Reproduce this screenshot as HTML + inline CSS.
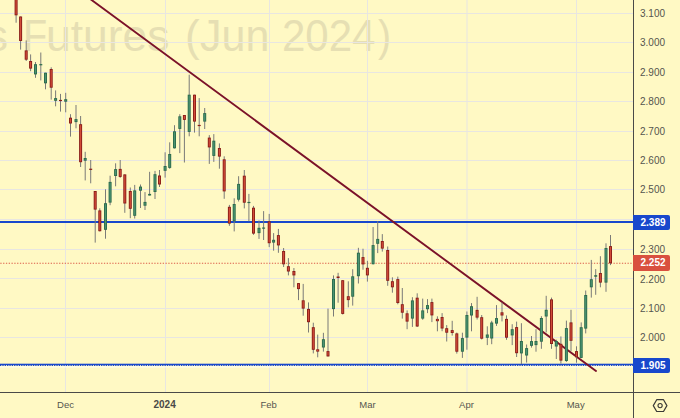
<!DOCTYPE html>
<html><head><meta charset="utf-8"><title>chart</title>
<style>
html,body{margin:0;padding:0;}
body{width:680px;height:418px;overflow:hidden;background:#fff9c4;font-family:"Liberation Sans",sans-serif;position:relative;}
#c{position:absolute;left:0;top:0;width:680px;height:418px;overflow:hidden;background:#fff9c4;}
.pl{position:absolute;left:640px;width:40px;font-size:10px;line-height:12px;color:#55554f;letter-spacing:0px;}
.tag{position:absolute;left:633px;width:37px;height:14.2px;padding-top:1px;border-radius:0 2px 2px 0;color:#fff;font-weight:bold;font-size:10px;line-height:14px;text-indent:7.5px;}
.ml{position:absolute;top:399px;font-size:9.5px;line-height:12px;color:#55554f;transform:translateX(-50%);white-space:nowrap;}
.wm{position:absolute;left:0;top:0;white-space:nowrap;font-size:44px;line-height:44px;color:#e6dfb3;transform-origin:0 0;}
</style></head><body><div id="c">
<div class="wm" style="left:-14.1px;top:14px;">s</div>
<div class="wm" style="left:22.6px;top:14px;transform:scaleX(0.9)">F</div>
<div class="wm" style="left:45.8px;top:14px;transform:scaleX(1.0093)">utures</div>
<div class="wm" style="left:185px;top:14px;">(</div>
<div class="wm" style="left:200px;top:14px;transform:scaleX(0.978)">Jun</div>
<div class="wm" style="left:281.6px;top:14px;transform:scaleX(0.954)">2024</div>
<div class="wm" style="left:377.6px;top:14px;transform:scaleX(0.89)">)</div>
<svg width="680" height="418" viewBox="0 0 680 418" style="position:absolute;left:0;top:0">
<g shape-rendering="crispEdges" fill="#e8e6e1">
<rect x="0" y="13" width="633" height="1"/>
<rect x="0" y="42" width="633" height="1"/>
<rect x="0" y="72" width="633" height="1"/>
<rect x="0" y="101" width="633" height="1"/>
<rect x="0" y="131" width="633" height="1"/>
<rect x="0" y="160" width="633" height="1"/>
<rect x="0" y="189" width="633" height="1"/>
<rect x="0" y="219" width="633" height="1"/>
<rect x="0" y="249" width="633" height="1"/>
<rect x="0" y="278" width="633" height="1"/>
<rect x="0" y="308" width="633" height="1"/>
<rect x="0" y="337" width="633" height="1"/>
<rect x="65" y="0" width="1" height="392"/>
<rect x="165" y="0" width="1" height="392"/>
<rect x="269" y="0" width="1" height="392"/>
<rect x="367" y="0" width="1" height="392"/>
<rect x="576" y="0" width="1" height="392"/>
</g>
<rect x="466.5" y="0" width="1" height="392" fill="#e8e6e1"/>
<!--WM-->
<g shape-rendering="crispEdges">
<rect x="0" y="221" width="633" height="2" fill="#1848cc"/>
</g>
<rect x="0" y="363.7" width="633" height="1.4" fill="#1848cc"/>
<line x1="0" y1="365.5" x2="633" y2="365.5" stroke="#1848cc" stroke-width="1.1" stroke-dasharray="1.3 1.05"/>
<rect x="0" y="366.4" width="633" height="1.1" fill="#fffdf0"/>
<line x1="0.3" y1="263.3" x2="633" y2="263.3" stroke="#dc5c48" stroke-width="1.1" stroke-dasharray="1.3 1.5"/>
<line x1="78" y1="-10" x2="596" y2="371" stroke="#7b1229" stroke-width="1.9" stroke-linecap="round"/>
<g>
<rect x="15.6" y="-5.0" width="1" height="27.7" fill="#7b7b78"/>
<rect x="14.6" y="-5.0" width="3" height="20.3" fill="#8a1c18"/>
<rect x="15.5" y="-4.1" width="1.2" height="18.5" fill="#d24c38"/>
<rect x="20.1" y="16.5" width="1" height="33.1" fill="#7b7b78"/>
<rect x="19.1" y="16.5" width="3" height="24.5" fill="#8a1c18"/>
<rect x="20.0" y="17.4" width="1.2" height="22.7" fill="#d24c38"/>
<rect x="25.7" y="40.4" width="1" height="20.6" fill="#7b7b78"/>
<rect x="24.7" y="50.4" width="3" height="9.3" fill="#8a1c18"/>
<rect x="25.6" y="51.3" width="1.2" height="7.5" fill="#d24c38"/>
<rect x="30.1" y="54.4" width="1" height="16.8" fill="#7b7b78"/>
<rect x="29.1" y="61.0" width="3" height="7.6" fill="#8a1c18"/>
<rect x="30.0" y="61.9" width="1.2" height="5.8" fill="#d24c38"/>
<rect x="35.0" y="62.0" width="1" height="15.8" fill="#7b7b78"/>
<rect x="34.0" y="64.2" width="3" height="10.2" fill="#2b6b4c"/>
<rect x="34.9" y="65.1" width="1.2" height="8.4" fill="#4c9372"/>
<rect x="40.3" y="52.5" width="1" height="27.9" fill="#7b7b78"/>
<rect x="39.3" y="64.1" width="3" height="1.2" fill="#2b6b4c"/>
<rect x="45.0" y="72.7" width="1" height="16.6" fill="#7b7b78"/>
<rect x="44.0" y="72.7" width="3" height="10.6" fill="#2b6b4c"/>
<rect x="44.9" y="73.6" width="1.2" height="8.8" fill="#4c9372"/>
<rect x="50.7" y="67.3" width="1" height="32.3" fill="#7b7b78"/>
<rect x="49.7" y="69.0" width="3" height="18.7" fill="#8a1c18"/>
<rect x="50.6" y="69.9" width="1.2" height="16.9" fill="#d24c38"/>
<rect x="55.1" y="90.4" width="1" height="15.9" fill="#7b7b78"/>
<rect x="54.1" y="98.1" width="3" height="2.7" fill="#2b6b4c"/>
<rect x="55.0" y="99.0" width="1.2" height="0.9" fill="#4c9372"/>
<rect x="60.0" y="93.9" width="1" height="17.7" fill="#7b7b78"/>
<rect x="59.0" y="99.9" width="3" height="1.2" fill="#8a1c18"/>
<rect x="65.2" y="92.8" width="1" height="19.5" fill="#7b7b78"/>
<rect x="64.2" y="99.2" width="3" height="2.5" fill="#2b6b4c"/>
<rect x="65.1" y="100.1" width="1.2" height="0.7" fill="#4c9372"/>
<rect x="70.0" y="114.2" width="1" height="22.4" fill="#7b7b78"/>
<rect x="69.0" y="117.7" width="3" height="5.8" fill="#8a1c18"/>
<rect x="69.9" y="118.6" width="1.2" height="4.0" fill="#d24c38"/>
<rect x="75.5" y="105.0" width="1" height="23.3" fill="#7b7b78"/>
<rect x="74.5" y="119.1" width="3" height="3.0" fill="#2b6b4c"/>
<rect x="75.4" y="120.0" width="1.2" height="1.2" fill="#4c9372"/>
<rect x="80.1" y="116.0" width="1" height="51.0" fill="#7b7b78"/>
<rect x="79.1" y="124.2" width="3" height="38.0" fill="#8a1c18"/>
<rect x="80.0" y="125.1" width="1.2" height="36.2" fill="#d24c38"/>
<rect x="84.7" y="151.8" width="1" height="28.6" fill="#7b7b78"/>
<rect x="83.7" y="158.0" width="3" height="2.7" fill="#2b6b4c"/>
<rect x="84.6" y="158.9" width="1.2" height="0.9" fill="#4c9372"/>
<rect x="90.2" y="160.0" width="1" height="23.3" fill="#7b7b78"/>
<rect x="89.2" y="168.7" width="3" height="1.2" fill="#8a1c18"/>
<rect x="94.7" y="191.0" width="1" height="51.6" fill="#7b7b78"/>
<rect x="93.7" y="191.0" width="3" height="18.6" fill="#8a1c18"/>
<rect x="94.6" y="191.9" width="1.2" height="16.8" fill="#d24c38"/>
<rect x="99.3" y="208.3" width="1" height="23.2" fill="#7b7b78"/>
<rect x="98.3" y="210.4" width="3" height="20.8" fill="#8a1c18"/>
<rect x="99.2" y="211.3" width="1.2" height="19.0" fill="#d24c38"/>
<rect x="105.0" y="189.3" width="1" height="49.4" fill="#7b7b78"/>
<rect x="104.0" y="203.2" width="3" height="26.6" fill="#2b6b4c"/>
<rect x="104.9" y="204.1" width="1.2" height="24.8" fill="#4c9372"/>
<rect x="109.6" y="175.7" width="1" height="29.5" fill="#7b7b78"/>
<rect x="108.6" y="181.9" width="3" height="20.7" fill="#2b6b4c"/>
<rect x="109.5" y="182.8" width="1.2" height="18.9" fill="#4c9372"/>
<rect x="115.1" y="163.3" width="1" height="23.0" fill="#7b7b78"/>
<rect x="114.1" y="169.1" width="3" height="6.9" fill="#2b6b4c"/>
<rect x="115.0" y="170.0" width="1.2" height="5.1" fill="#4c9372"/>
<rect x="119.7" y="160.0" width="1" height="17.8" fill="#7b7b78"/>
<rect x="118.7" y="168.9" width="3" height="8.0" fill="#8a1c18"/>
<rect x="119.6" y="169.8" width="1.2" height="6.2" fill="#d24c38"/>
<rect x="124.3" y="174.4" width="1" height="38.4" fill="#7b7b78"/>
<rect x="123.3" y="174.4" width="3" height="29.1" fill="#8a1c18"/>
<rect x="124.2" y="175.3" width="1.2" height="27.3" fill="#d24c38"/>
<rect x="129.8" y="187.5" width="1" height="30.7" fill="#7b7b78"/>
<rect x="128.8" y="191.0" width="3" height="17.8" fill="#8a1c18"/>
<rect x="129.7" y="191.9" width="1.2" height="16.0" fill="#d24c38"/>
<rect x="134.2" y="184.9" width="1" height="33.6" fill="#7b7b78"/>
<rect x="133.2" y="190.4" width="3" height="25.4" fill="#2b6b4c"/>
<rect x="134.1" y="191.3" width="1.2" height="23.6" fill="#4c9372"/>
<rect x="140.0" y="184.5" width="1" height="23.5" fill="#7b7b78"/>
<rect x="139.0" y="186.6" width="3" height="4.1" fill="#2b6b4c"/>
<rect x="139.9" y="187.5" width="1.2" height="2.3" fill="#4c9372"/>
<rect x="144.5" y="192.1" width="1" height="17.9" fill="#7b7b78"/>
<rect x="143.5" y="201.9" width="3" height="3.8" fill="#2b6b4c"/>
<rect x="144.4" y="202.8" width="1.2" height="2.0" fill="#4c9372"/>
<rect x="149.1" y="171.8" width="1" height="23.7" fill="#7b7b78"/>
<rect x="148.1" y="193.9" width="3" height="1.6" fill="#2b6b4c"/>
<rect x="154.5" y="170.9" width="1" height="28.1" fill="#7b7b78"/>
<rect x="153.5" y="174.2" width="3" height="17.8" fill="#2b6b4c"/>
<rect x="154.4" y="175.1" width="1.2" height="16.0" fill="#4c9372"/>
<rect x="159.0" y="170.0" width="1" height="17.0" fill="#7b7b78"/>
<rect x="158.0" y="175.5" width="3" height="9.0" fill="#8a1c18"/>
<rect x="158.9" y="176.4" width="1.2" height="7.2" fill="#d24c38"/>
<rect x="164.6" y="152.3" width="1" height="25.3" fill="#7b7b78"/>
<rect x="163.6" y="166.0" width="3" height="4.8" fill="#2b6b4c"/>
<rect x="164.5" y="166.9" width="1.2" height="3.0" fill="#4c9372"/>
<rect x="169.2" y="142.3" width="1" height="26.5" fill="#7b7b78"/>
<rect x="168.2" y="154.0" width="3" height="13.9" fill="#2b6b4c"/>
<rect x="169.1" y="154.9" width="1.2" height="12.1" fill="#4c9372"/>
<rect x="174.0" y="125.2" width="1" height="23.3" fill="#7b7b78"/>
<rect x="173.0" y="131.3" width="3" height="17.0" fill="#2b6b4c"/>
<rect x="173.9" y="132.2" width="1.2" height="15.2" fill="#4c9372"/>
<rect x="179.3" y="114.2" width="1" height="38.9" fill="#7b7b78"/>
<rect x="178.3" y="116.3" width="3" height="12.6" fill="#2b6b4c"/>
<rect x="179.2" y="117.2" width="1.2" height="10.8" fill="#4c9372"/>
<rect x="183.9" y="115.0" width="1" height="47.5" fill="#7b7b78"/>
<rect x="182.9" y="115.0" width="3" height="4.9" fill="#8a1c18"/>
<rect x="183.8" y="115.9" width="1.2" height="3.1" fill="#d24c38"/>
<rect x="188.7" y="74.7" width="1" height="61.6" fill="#7b7b78"/>
<rect x="187.7" y="94.7" width="3" height="37.2" fill="#2b6b4c"/>
<rect x="188.6" y="95.6" width="1.2" height="35.4" fill="#4c9372"/>
<rect x="194.0" y="94.7" width="1" height="37.9" fill="#7b7b78"/>
<rect x="193.0" y="94.7" width="3" height="26.9" fill="#8a1c18"/>
<rect x="193.9" y="95.6" width="1.2" height="25.1" fill="#d24c38"/>
<rect x="198.7" y="98.1" width="1" height="38.2" fill="#7b7b78"/>
<rect x="197.7" y="124.9" width="3" height="1.2" fill="#8a1c18"/>
<rect x="204.2" y="108.0" width="1" height="21.0" fill="#7b7b78"/>
<rect x="203.2" y="113.1" width="3" height="8.5" fill="#2b6b4c"/>
<rect x="204.1" y="114.0" width="1.2" height="6.7" fill="#4c9372"/>
<rect x="208.8" y="135.1" width="1" height="28.8" fill="#7b7b78"/>
<rect x="207.8" y="137.6" width="3" height="9.8" fill="#8a1c18"/>
<rect x="208.7" y="138.5" width="1.2" height="8.0" fill="#d24c38"/>
<rect x="213.3" y="134.1" width="1" height="27.8" fill="#7b7b78"/>
<rect x="212.3" y="140.7" width="3" height="15.2" fill="#2b6b4c"/>
<rect x="213.2" y="141.6" width="1.2" height="13.4" fill="#4c9372"/>
<rect x="218.9" y="143.4" width="1" height="25.3" fill="#7b7b78"/>
<rect x="217.9" y="148.0" width="3" height="8.6" fill="#8a1c18"/>
<rect x="218.8" y="148.9" width="1.2" height="6.8" fill="#d24c38"/>
<rect x="223.7" y="156.3" width="1" height="42.5" fill="#7b7b78"/>
<rect x="222.7" y="159.3" width="3" height="32.1" fill="#8a1c18"/>
<rect x="223.6" y="160.2" width="1.2" height="30.3" fill="#d24c38"/>
<rect x="228.9" y="204.9" width="1" height="20.9" fill="#7b7b78"/>
<rect x="227.9" y="206.8" width="3" height="16.8" fill="#8a1c18"/>
<rect x="228.8" y="207.7" width="1.2" height="15.0" fill="#d24c38"/>
<rect x="233.7" y="198.3" width="1" height="33.1" fill="#7b7b78"/>
<rect x="232.7" y="204.0" width="3" height="17.3" fill="#2b6b4c"/>
<rect x="233.6" y="204.9" width="1.2" height="15.5" fill="#4c9372"/>
<rect x="238.1" y="176.2" width="1" height="25.3" fill="#7b7b78"/>
<rect x="237.1" y="183.9" width="3" height="15.8" fill="#2b6b4c"/>
<rect x="238.0" y="184.8" width="1.2" height="14.0" fill="#4c9372"/>
<rect x="243.8" y="170.0" width="1" height="38.4" fill="#7b7b78"/>
<rect x="242.8" y="175.7" width="3" height="27.0" fill="#8a1c18"/>
<rect x="243.7" y="176.6" width="1.2" height="25.2" fill="#d24c38"/>
<rect x="248.4" y="193.9" width="1" height="27.4" fill="#7b7b78"/>
<rect x="247.4" y="201.9" width="3" height="1.2" fill="#2b6b4c"/>
<rect x="253.0" y="205.9" width="1" height="28.9" fill="#7b7b78"/>
<rect x="252.0" y="207.7" width="3" height="25.9" fill="#8a1c18"/>
<rect x="252.9" y="208.6" width="1.2" height="24.1" fill="#d24c38"/>
<rect x="258.5" y="220.4" width="1" height="18.5" fill="#7b7b78"/>
<rect x="257.5" y="227.8" width="3" height="5.3" fill="#2b6b4c"/>
<rect x="258.4" y="228.7" width="1.2" height="3.5" fill="#4c9372"/>
<rect x="263.1" y="211.1" width="1" height="28.9" fill="#7b7b78"/>
<rect x="262.1" y="227.5" width="3" height="1.2" fill="#2b6b4c"/>
<rect x="268.7" y="213.9" width="1" height="33.2" fill="#7b7b78"/>
<rect x="267.7" y="221.3" width="3" height="21.9" fill="#8a1c18"/>
<rect x="268.6" y="222.2" width="1.2" height="20.1" fill="#d24c38"/>
<rect x="273.1" y="233.1" width="1" height="17.6" fill="#7b7b78"/>
<rect x="272.1" y="239.8" width="3" height="2.8" fill="#2b6b4c"/>
<rect x="273.0" y="240.7" width="1.2" height="1.0" fill="#4c9372"/>
<rect x="277.9" y="228.9" width="1" height="23.9" fill="#7b7b78"/>
<rect x="276.9" y="235.1" width="3" height="10.3" fill="#8a1c18"/>
<rect x="277.8" y="236.0" width="1.2" height="8.5" fill="#d24c38"/>
<rect x="283.1" y="248.0" width="1" height="19.0" fill="#7b7b78"/>
<rect x="282.1" y="251.0" width="3" height="13.3" fill="#8a1c18"/>
<rect x="283.0" y="251.9" width="1.2" height="11.5" fill="#d24c38"/>
<rect x="287.9" y="258.1" width="1" height="17.3" fill="#7b7b78"/>
<rect x="286.9" y="266.2" width="3" height="5.3" fill="#8a1c18"/>
<rect x="287.8" y="267.1" width="1.2" height="3.5" fill="#d24c38"/>
<rect x="293.4" y="268.0" width="1" height="19.3" fill="#7b7b78"/>
<rect x="292.4" y="271.0" width="3" height="4.4" fill="#8a1c18"/>
<rect x="293.3" y="271.9" width="1.2" height="2.6" fill="#d24c38"/>
<rect x="298.0" y="283.1" width="1" height="17.0" fill="#7b7b78"/>
<rect x="297.0" y="283.1" width="3" height="6.0" fill="#8a1c18"/>
<rect x="297.9" y="284.0" width="1.2" height="4.2" fill="#d24c38"/>
<rect x="302.7" y="283.9" width="1" height="31.8" fill="#7b7b78"/>
<rect x="301.7" y="300.3" width="3" height="8.3" fill="#8a1c18"/>
<rect x="302.6" y="301.2" width="1.2" height="6.5" fill="#d24c38"/>
<rect x="308.0" y="302.4" width="1" height="30.1" fill="#7b7b78"/>
<rect x="307.0" y="308.9" width="3" height="13.3" fill="#8a1c18"/>
<rect x="307.9" y="309.8" width="1.2" height="11.5" fill="#d24c38"/>
<rect x="312.8" y="322.7" width="1" height="30.7" fill="#7b7b78"/>
<rect x="311.8" y="327.2" width="3" height="22.6" fill="#8a1c18"/>
<rect x="312.7" y="328.1" width="1.2" height="20.8" fill="#d24c38"/>
<rect x="317.2" y="334.6" width="1" height="22.7" fill="#7b7b78"/>
<rect x="316.2" y="349.3" width="3" height="2.3" fill="#8a1c18"/>
<rect x="317.1" y="349.9" width="1.2" height="1.1" fill="#d24c38"/>
<rect x="322.9" y="332.8" width="1" height="18.8" fill="#7b7b78"/>
<rect x="321.9" y="339.2" width="3" height="8.3" fill="#2b6b4c"/>
<rect x="322.8" y="340.1" width="1.2" height="6.5" fill="#4c9372"/>
<rect x="327.5" y="308.6" width="1" height="48.0" fill="#7b7b78"/>
<rect x="326.5" y="351.1" width="3" height="5.3" fill="#8a1c18"/>
<rect x="327.4" y="352.0" width="1.2" height="3.5" fill="#d24c38"/>
<rect x="333.0" y="275.4" width="1" height="41.1" fill="#7b7b78"/>
<rect x="332.0" y="279.0" width="3" height="30.1" fill="#2b6b4c"/>
<rect x="332.9" y="279.9" width="1.2" height="28.3" fill="#4c9372"/>
<rect x="337.6" y="272.8" width="1" height="29.9" fill="#7b7b78"/>
<rect x="336.6" y="276.5" width="3" height="1.5" fill="#8a1c18"/>
<rect x="342.2" y="280.2" width="1" height="34.3" fill="#7b7b78"/>
<rect x="341.2" y="280.2" width="3" height="33.7" fill="#8a1c18"/>
<rect x="342.1" y="281.1" width="1.2" height="31.9" fill="#d24c38"/>
<rect x="347.8" y="281.3" width="1" height="26.0" fill="#7b7b78"/>
<rect x="346.8" y="296.2" width="3" height="3.9" fill="#8a1c18"/>
<rect x="347.7" y="297.1" width="1.2" height="2.1" fill="#d24c38"/>
<rect x="352.2" y="269.2" width="1" height="36.4" fill="#7b7b78"/>
<rect x="351.2" y="276.3" width="3" height="20.4" fill="#2b6b4c"/>
<rect x="352.1" y="277.2" width="1.2" height="18.6" fill="#4c9372"/>
<rect x="357.9" y="247.8" width="1" height="35.7" fill="#7b7b78"/>
<rect x="356.9" y="252.7" width="3" height="23.5" fill="#2b6b4c"/>
<rect x="357.8" y="253.6" width="1.2" height="21.7" fill="#4c9372"/>
<rect x="362.5" y="248.7" width="1" height="21.0" fill="#7b7b78"/>
<rect x="361.5" y="257.1" width="3" height="7.3" fill="#8a1c18"/>
<rect x="362.4" y="258.0" width="1.2" height="5.5" fill="#d24c38"/>
<rect x="366.9" y="260.8" width="1" height="20.8" fill="#7b7b78"/>
<rect x="365.9" y="267.8" width="3" height="7.6" fill="#8a1c18"/>
<rect x="366.8" y="268.7" width="1.2" height="5.8" fill="#d24c38"/>
<rect x="372.6" y="227.0" width="1" height="37.5" fill="#7b7b78"/>
<rect x="371.6" y="245.1" width="3" height="19.1" fill="#2b6b4c"/>
<rect x="372.5" y="246.0" width="1.2" height="17.3" fill="#4c9372"/>
<rect x="377.2" y="221.2" width="1" height="31.9" fill="#7b7b78"/>
<rect x="376.2" y="238.9" width="3" height="4.9" fill="#2b6b4c"/>
<rect x="377.1" y="239.8" width="1.2" height="3.1" fill="#4c9372"/>
<rect x="381.8" y="234.1" width="1" height="17.5" fill="#7b7b78"/>
<rect x="380.8" y="241.0" width="3" height="7.6" fill="#8a1c18"/>
<rect x="381.7" y="241.9" width="1.2" height="5.8" fill="#d24c38"/>
<rect x="387.2" y="246.5" width="1" height="39.3" fill="#7b7b78"/>
<rect x="386.2" y="250.0" width="3" height="30.8" fill="#8a1c18"/>
<rect x="387.1" y="250.9" width="1.2" height="29.0" fill="#d24c38"/>
<rect x="391.9" y="277.3" width="1" height="15.4" fill="#7b7b78"/>
<rect x="390.9" y="281.2" width="3" height="6.1" fill="#8a1c18"/>
<rect x="391.8" y="282.1" width="1.2" height="4.3" fill="#d24c38"/>
<rect x="397.3" y="276.6" width="1" height="27.7" fill="#7b7b78"/>
<rect x="396.3" y="279.1" width="3" height="23.9" fill="#8a1c18"/>
<rect x="397.2" y="280.0" width="1.2" height="22.1" fill="#d24c38"/>
<rect x="401.8" y="288.0" width="1" height="30.6" fill="#7b7b78"/>
<rect x="400.8" y="304.2" width="3" height="8.5" fill="#8a1c18"/>
<rect x="401.7" y="305.1" width="1.2" height="6.7" fill="#d24c38"/>
<rect x="406.6" y="310.4" width="1" height="18.8" fill="#7b7b78"/>
<rect x="405.6" y="313.3" width="3" height="8.3" fill="#8a1c18"/>
<rect x="406.5" y="314.2" width="1.2" height="6.5" fill="#d24c38"/>
<rect x="411.9" y="297.2" width="1" height="29.7" fill="#7b7b78"/>
<rect x="410.9" y="300.4" width="3" height="18.2" fill="#2b6b4c"/>
<rect x="411.8" y="301.3" width="1.2" height="16.4" fill="#4c9372"/>
<rect x="416.7" y="293.3" width="1" height="33.7" fill="#7b7b78"/>
<rect x="415.7" y="297.7" width="3" height="28.8" fill="#8a1c18"/>
<rect x="416.6" y="298.6" width="1.2" height="27.0" fill="#d24c38"/>
<rect x="422.2" y="298.6" width="1" height="21.2" fill="#7b7b78"/>
<rect x="421.2" y="310.4" width="3" height="8.2" fill="#2b6b4c"/>
<rect x="422.1" y="311.3" width="1.2" height="6.4" fill="#4c9372"/>
<rect x="427.0" y="299.1" width="1" height="14.0" fill="#7b7b78"/>
<rect x="426.0" y="305.1" width="3" height="4.1" fill="#2b6b4c"/>
<rect x="426.9" y="306.0" width="1.2" height="2.3" fill="#4c9372"/>
<rect x="431.4" y="298.6" width="1" height="23.5" fill="#7b7b78"/>
<rect x="430.4" y="302.1" width="3" height="13.3" fill="#8a1c18"/>
<rect x="431.3" y="303.0" width="1.2" height="11.5" fill="#d24c38"/>
<rect x="436.9" y="316.3" width="1" height="15.0" fill="#7b7b78"/>
<rect x="435.9" y="318.9" width="3" height="2.3" fill="#8a1c18"/>
<rect x="436.8" y="319.5" width="1.2" height="1.1" fill="#d24c38"/>
<rect x="441.6" y="313.1" width="1" height="18.1" fill="#7b7b78"/>
<rect x="440.6" y="317.0" width="3" height="11.5" fill="#8a1c18"/>
<rect x="441.5" y="317.9" width="1.2" height="9.7" fill="#d24c38"/>
<rect x="446.2" y="325.1" width="1" height="16.4" fill="#7b7b78"/>
<rect x="445.2" y="328.2" width="3" height="4.5" fill="#8a1c18"/>
<rect x="446.1" y="329.1" width="1.2" height="2.7" fill="#d24c38"/>
<rect x="451.7" y="320.8" width="1" height="14.8" fill="#7b7b78"/>
<rect x="450.7" y="330.1" width="3" height="2.9" fill="#8a1c18"/>
<rect x="451.6" y="331.0" width="1.2" height="1.1" fill="#d24c38"/>
<rect x="456.3" y="332.6" width="1" height="21.0" fill="#7b7b78"/>
<rect x="455.3" y="333.4" width="3" height="18.3" fill="#8a1c18"/>
<rect x="456.2" y="334.3" width="1.2" height="16.5" fill="#d24c38"/>
<rect x="461.9" y="332.7" width="1" height="25.2" fill="#7b7b78"/>
<rect x="460.9" y="338.1" width="3" height="13.6" fill="#2b6b4c"/>
<rect x="461.8" y="339.0" width="1.2" height="11.8" fill="#4c9372"/>
<rect x="466.4" y="311.5" width="1" height="38.2" fill="#7b7b78"/>
<rect x="465.4" y="315.0" width="3" height="22.6" fill="#2b6b4c"/>
<rect x="466.3" y="315.9" width="1.2" height="20.8" fill="#4c9372"/>
<rect x="471.0" y="303.1" width="1" height="28.2" fill="#7b7b78"/>
<rect x="470.0" y="306.2" width="3" height="9.3" fill="#2b6b4c"/>
<rect x="470.9" y="307.1" width="1.2" height="7.5" fill="#4c9372"/>
<rect x="476.6" y="296.8" width="1" height="22.7" fill="#7b7b78"/>
<rect x="475.6" y="309.9" width="3" height="7.7" fill="#8a1c18"/>
<rect x="476.5" y="310.8" width="1.2" height="5.9" fill="#d24c38"/>
<rect x="481.2" y="315.0" width="1" height="24.5" fill="#7b7b78"/>
<rect x="480.2" y="317.2" width="3" height="21.5" fill="#8a1c18"/>
<rect x="481.1" y="318.1" width="1.2" height="19.7" fill="#d24c38"/>
<rect x="486.8" y="326.3" width="1" height="18.8" fill="#7b7b78"/>
<rect x="485.8" y="334.5" width="3" height="3.3" fill="#2b6b4c"/>
<rect x="486.7" y="335.4" width="1.2" height="1.5" fill="#4c9372"/>
<rect x="491.2" y="320.8" width="1" height="23.4" fill="#7b7b78"/>
<rect x="490.2" y="322.5" width="3" height="16.0" fill="#2b6b4c"/>
<rect x="491.1" y="323.4" width="1.2" height="14.2" fill="#4c9372"/>
<rect x="496.0" y="305.1" width="1" height="20.8" fill="#7b7b78"/>
<rect x="495.0" y="318.1" width="3" height="5.5" fill="#2b6b4c"/>
<rect x="495.9" y="319.0" width="1.2" height="3.7" fill="#4c9372"/>
<rect x="501.5" y="302.6" width="1" height="18.8" fill="#7b7b78"/>
<rect x="500.5" y="312.3" width="3" height="3.2" fill="#8a1c18"/>
<rect x="501.4" y="313.2" width="1.2" height="1.4" fill="#d24c38"/>
<rect x="506.0" y="315.4" width="1" height="24.4" fill="#7b7b78"/>
<rect x="505.0" y="318.9" width="3" height="18.8" fill="#8a1c18"/>
<rect x="505.9" y="319.8" width="1.2" height="17.0" fill="#d24c38"/>
<rect x="511.7" y="324.2" width="1" height="20.9" fill="#7b7b78"/>
<rect x="510.7" y="329.2" width="3" height="6.2" fill="#2b6b4c"/>
<rect x="511.6" y="330.1" width="1.2" height="4.4" fill="#4c9372"/>
<rect x="516.1" y="321.6" width="1" height="35.4" fill="#7b7b78"/>
<rect x="515.1" y="327.1" width="3" height="26.1" fill="#8a1c18"/>
<rect x="516.0" y="328.0" width="1.2" height="24.3" fill="#d24c38"/>
<rect x="520.9" y="323.2" width="1" height="40.8" fill="#7b7b78"/>
<rect x="519.9" y="341.0" width="3" height="12.4" fill="#2b6b4c"/>
<rect x="520.8" y="341.9" width="1.2" height="10.6" fill="#4c9372"/>
<rect x="526.1" y="344.5" width="1" height="18.1" fill="#7b7b78"/>
<rect x="525.1" y="348.1" width="3" height="7.4" fill="#2b6b4c"/>
<rect x="526.0" y="349.0" width="1.2" height="5.6" fill="#4c9372"/>
<rect x="531.0" y="336.0" width="1" height="11.6" fill="#7b7b78"/>
<rect x="530.0" y="341.1" width="3" height="4.7" fill="#2b6b4c"/>
<rect x="530.9" y="342.0" width="1.2" height="2.9" fill="#4c9372"/>
<rect x="535.5" y="329.2" width="1" height="22.5" fill="#7b7b78"/>
<rect x="534.5" y="341.0" width="3" height="4.1" fill="#2b6b4c"/>
<rect x="535.4" y="341.9" width="1.2" height="2.3" fill="#4c9372"/>
<rect x="540.9" y="316.2" width="1" height="32.6" fill="#7b7b78"/>
<rect x="539.9" y="318.0" width="3" height="23.7" fill="#2b6b4c"/>
<rect x="540.8" y="318.9" width="1.2" height="21.9" fill="#4c9372"/>
<rect x="545.7" y="295.8" width="1" height="36.6" fill="#7b7b78"/>
<rect x="544.7" y="309.8" width="3" height="6.7" fill="#2b6b4c"/>
<rect x="545.6" y="310.7" width="1.2" height="4.9" fill="#4c9372"/>
<rect x="551.0" y="297.6" width="1" height="51.2" fill="#7b7b78"/>
<rect x="550.0" y="299.4" width="3" height="44.6" fill="#8a1c18"/>
<rect x="550.9" y="300.3" width="1.2" height="42.8" fill="#d24c38"/>
<rect x="555.8" y="339.7" width="1" height="19.3" fill="#7b7b78"/>
<rect x="554.8" y="341.0" width="3" height="5.5" fill="#2b6b4c"/>
<rect x="555.7" y="341.9" width="1.2" height="3.7" fill="#4c9372"/>
<rect x="560.4" y="336.4" width="1" height="27.2" fill="#7b7b78"/>
<rect x="559.4" y="343.8" width="3" height="16.8" fill="#8a1c18"/>
<rect x="560.3" y="344.7" width="1.2" height="15.0" fill="#d24c38"/>
<rect x="565.9" y="320.6" width="1" height="41.3" fill="#7b7b78"/>
<rect x="564.9" y="328.1" width="3" height="32.9" fill="#2b6b4c"/>
<rect x="565.8" y="329.0" width="1.2" height="31.1" fill="#4c9372"/>
<rect x="570.5" y="309.8" width="1" height="41.3" fill="#7b7b78"/>
<rect x="569.5" y="322.4" width="3" height="18.4" fill="#8a1c18"/>
<rect x="570.4" y="323.3" width="1.2" height="16.6" fill="#d24c38"/>
<rect x="576.0" y="346.3" width="1" height="16.4" fill="#7b7b78"/>
<rect x="575.0" y="351.1" width="3" height="6.2" fill="#8a1c18"/>
<rect x="575.9" y="352.0" width="1.2" height="4.4" fill="#d24c38"/>
<rect x="580.7" y="322.4" width="1" height="35.8" fill="#7b7b78"/>
<rect x="579.7" y="327.2" width="3" height="30.7" fill="#2b6b4c"/>
<rect x="580.6" y="328.1" width="1.2" height="28.9" fill="#4c9372"/>
<rect x="585.2" y="290.5" width="1" height="42.9" fill="#7b7b78"/>
<rect x="584.2" y="295.0" width="3" height="33.6" fill="#2b6b4c"/>
<rect x="585.1" y="295.9" width="1.2" height="31.8" fill="#4c9372"/>
<rect x="590.8" y="259.9" width="1" height="37.7" fill="#7b7b78"/>
<rect x="589.8" y="279.2" width="3" height="8.1" fill="#2b6b4c"/>
<rect x="590.7" y="280.1" width="1.2" height="6.3" fill="#4c9372"/>
<rect x="595.2" y="269.1" width="1" height="25.7" fill="#7b7b78"/>
<rect x="594.2" y="275.2" width="3" height="1.5" fill="#2b6b4c"/>
<rect x="599.9" y="256.2" width="1" height="31.1" fill="#7b7b78"/>
<rect x="598.9" y="273.0" width="3" height="9.6" fill="#8a1c18"/>
<rect x="599.8" y="273.9" width="1.2" height="7.8" fill="#d24c38"/>
<rect x="605.5" y="243.3" width="1" height="48.5" fill="#7b7b78"/>
<rect x="604.5" y="248.0" width="3" height="34.6" fill="#2b6b4c"/>
<rect x="605.4" y="248.9" width="1.2" height="32.8" fill="#4c9372"/>
<rect x="610.0" y="235.0" width="1" height="30.1" fill="#7b7b78"/>
<rect x="609.0" y="246.1" width="3" height="17.2" fill="#8a1c18"/>
<rect x="609.9" y="247.0" width="1.2" height="15.4" fill="#d24c38"/>
</g>
<g shape-rendering="crispEdges" fill="#4a4a48">
<rect x="633" y="0" width="1" height="418"/>
<rect x="0" y="392" width="680" height="1"/>
</g>
<polygon points="666.9,405.6 663.5,411.5 656.7,411.5 653.3,405.6 656.7,399.7 663.5,399.7" fill="none" stroke="#3a3a36" stroke-width="1.2" stroke-linejoin="round"/>
<circle cx="660.1" cy="405.6" r="2.1" fill="none" stroke="#3a3a36" stroke-width="1.1"/>
</svg>
<div class="pl" style="top:8px">3.100</div>
<div class="pl" style="top:37px">3.000</div>
<div class="pl" style="top:67px">2.900</div>
<div class="pl" style="top:96px">2.800</div>
<div class="pl" style="top:126px">2.700</div>
<div class="pl" style="top:155px">2.600</div>
<div class="pl" style="top:184px">2.500</div>
<div class="pl" style="top:244px">2.300</div>
<div class="pl" style="top:274px">2.200</div>
<div class="pl" style="top:303px">2.100</div>
<div class="pl" style="top:332px">2.000</div>

<div class="tag" style="top:215px;background:#1848cc;">2.389</div>
<div class="tag" style="top:255.4px;background:#d9503f;">2.252</div>
<div class="tag" style="top:357.5px;background:#1848cc;">1.905</div>
<div class="ml" style="left:65.5px">Dec</div>
<div class="ml" style="left:164.6px;font-weight:bold;font-size:10px;color:#4a4a46">2024</div>
<div class="ml" style="left:268.7px">Feb</div>
<div class="ml" style="left:367.5px">Mar</div>
<div class="ml" style="left:466.5px">Apr</div>
<div class="ml" style="left:575.7px">May</div>
</div></body></html>
